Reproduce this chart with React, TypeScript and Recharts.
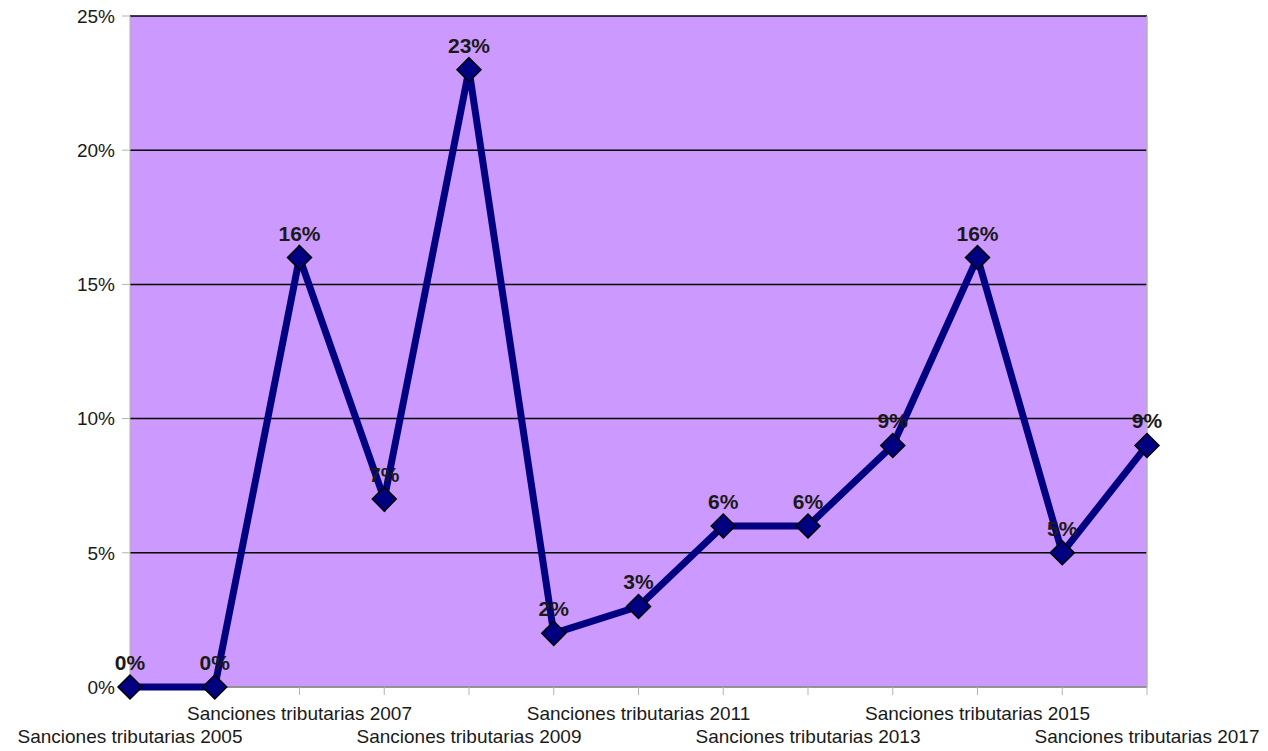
import { LineChart, Line, XAxis, YAxis, CartesianGrid, LabelList, ReferenceLine } from "recharts";

const YEARS = [2005, 2006, 2007, 2008, 2009, 2010, 2011, 2012, 2013, 2014, 2015, 2016, 2017];
const VALUES = [0, 0, 16, 7, 23, 2, 3, 6, 6, 9, 16, 5, 9];
const Y_TICKS = [0, 5, 10, 15, 20, 25];

const data = YEARS.map((y, i) => ({ name: `Sanciones tributarias ${y}`, value: VALUES[i] }));

const FONT = "'Liberation Sans', Arial, sans-serif";
const TEXT = "#1a1a1a";

function Diamond(props: any) {
  const { cx, cy } = props;
  if (cx == null || cy == null) return null;
  const r = 12;
  return (
    <path
      d={`M${cx},${cy - r} L${cx + r},${cy} L${cx},${cy + r} L${cx - r},${cy} Z`}
      fill="#000080"
      stroke="#000"
      strokeWidth={1.5}
    />
  );
}

function XTick(props: any) {
  const { x, y, payload, index } = props;
  if (index % 2 !== 0) return null;
  const dy = index % 4 === 0 ? 48 : 25;
  return (
    <text x={x} y={y + dy} textAnchor="middle" fill={TEXT} fontSize={19} fontFamily={FONT}>
      {payload.value}
    </text>
  );
}

function ValueLabel(props: any) {
  const { x, y, value } = props;
  return (
    <text x={x} y={y - 17} textAnchor="middle" fill={TEXT} fontSize={21} fontWeight="bold" fontFamily={FONT}>
      {`${value}%`}
    </text>
  );
}

export default function App() {
  return (
    <div style={{ position: "absolute", left: 0, top: 0, background: "#fff" }}>
      <LineChart width={1268} height={751} data={data} margin={{ top: 16, right: 121, bottom: 0, left: 0 }}>
        <CartesianGrid vertical={false} stroke="#000" strokeWidth={1.5} fill="#cc99ff" />
        <XAxis
          dataKey="name"
          interval={0}
          height={64}
          tickSize={8}
          tickMargin={0}
          axisLine={false}
          tickLine={{ stroke: "#b3b3b3" }}
          tick={<XTick />}
        />
        <YAxis
          width={130}
          domain={[0, 25]}
          ticks={Y_TICKS}
          tickFormatter={(v: number) => `${v}%`}
          tickSize={8}
          tickMargin={7}
          stroke="#b3b3b3"
          tick={{ fill: TEXT, fontSize: 19, fontFamily: FONT }}
        />
        <ReferenceLine y={0} stroke="#b3b3b3" strokeWidth={1.5} />
        <ReferenceLine x={data[data.length - 1].name} stroke="#b3b3b3" strokeWidth={1.5} />
        <Line
          type="linear"
          dataKey="value"
          stroke="#000080"
          strokeWidth={7}
          dot={<Diamond />}
          activeDot={false}
          isAnimationActive={false}
        >
          <LabelList dataKey="value" content={<ValueLabel />} />
        </Line>
      </LineChart>
    </div>
  );
}
